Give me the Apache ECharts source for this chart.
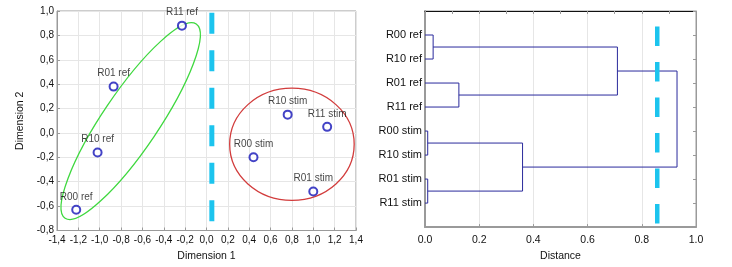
<!DOCTYPE html>
<html>
<head>
<meta charset="utf-8">
<style>
  html, body { margin: 0; padding: 0; background: #fff; }
  #chart { width: 732px; height: 267px; }
</style>
<script src="https://cdn.jsdelivr.net/npm/echarts@6/dist/echarts.min.js"></script>
</head>
<body>
<div id="chart"></div>
<script>
// MDS scatter (left)
var pointNames = ['R11 ref', 'R01 ref', 'R10 ref', 'R00 ref', 'R10 stim', 'R11 stim', 'R00 stim', 'R01 stim'];
var dim1 = [-0.23, -0.87, -1.02, -1.22, 0.76, 1.13, 0.44, 1.00];
var dim2 = [0.88, 0.38, -0.16, -0.63, 0.15, 0.05, -0.20, -0.48];

// group ellipses: centre, end of first semi-axis, end of second semi-axis (data units)
var refEllipse = [-0.71, 0.097, -0.096, 0.893, -0.493, -0.032];
var stimEllipse = [0.80, -0.093, 1.383, -0.093, 0.80, 0.367];

// cut line on the scatter
var scatterCut = [[0.05, 0.985], [0.05, -0.75]];

// dendrogram (right)
var leafNames = ['R00 ref', 'R10 ref', 'R01 ref', 'R11 ref', 'R00 stim', 'R10 stim', 'R01 stim', 'R11 stim'];
// [node a, node b, distance]; leaves are 0..7, new nodes numbered from 8
var merges = [
  [0, 1, 0.03],
  [2, 3, 0.125],
  [4, 5, 0.01],
  [6, 7, 0.01],
  [8, 9, 0.71],
  [10, 11, 0.36],
  [12, 13, 0.93]
];
var dendroCut = [[0.857, 0.65], [0.857, 8.88]];

var font = 'Liberation Sans, Arial, sans-serif';
var ink = '#111';
var frame = '#9a9a9a';
var gridCol = '#e6e6e6';
var cyan = '#1cc4ee';
var navy = '#2a2a9c';

function commaFmt(v) {
  if (Math.abs(v) < 1e-9) v = 0;
  return v.toFixed(1).replace('.', ',');
}

var chart = echarts.init(document.getElementById('chart'), null, { renderer: 'canvas' });

var scatterData = pointNames.map(function(n, i) {
  return { name: n, value: [dim1[i], dim2[i]] };
});

// build dendrogram links
var nodeY = leafNames.map(function(n, i) { return i + 1; });
var nodeH = leafNames.map(function() { return 0; });
var linkSeries = [];
merges.forEach(function(m) {
  var a = m[0], b = m[1], h = m[2];
  linkSeries.push({
    type: 'line',
    xAxisIndex: 1,
    yAxisIndex: 1,
    symbol: 'none',
    silent: true,
    lineStyle: { color: navy, width: 1 },
    data: [[nodeH[a], nodeY[a]], [h, nodeY[a]], [h, nodeY[b]], [nodeH[b], nodeY[b]]],
    z: 2
  });
  nodeY.push((nodeY[a] + nodeY[b]) / 2);
  nodeH.push(h);
});

var ellipseColors = ['#3fd83f', '#d23c3c'];

var option = {
  animation: false,
  textStyle: { fontFamily: font },
  grid: [
    { left: 57, right: 376, top: 11, bottom: 36.5, show: true, borderColor: frame, borderWidth: 1 },
    { left: 425, right: 36, top: 11, bottom: 36.5, show: true, borderColor: frame, borderWidth: 1 }
  ],
  xAxis: [
    {
      gridIndex: 0, type: 'value', min: -1.4, max: 1.4, interval: 0.2,
      axisLine: { show: true, onZero: false, lineStyle: { color: frame } },
      axisTick: { show: true, inside: true, length: 3, lineStyle: { color: frame } },
      axisLabel: { formatter: commaFmt, fontSize: 10, color: ink, margin: 5 },
      splitLine: { show: true, lineStyle: { color: gridCol } },
      name: 'Dimension 1', nameLocation: 'middle', nameGap: 19,
      nameTextStyle: { fontSize: 10.5, color: ink }
    },
    {
      gridIndex: 1, type: 'value', min: 0, max: 1, interval: 0.2,
      axisLine: { show: true, onZero: false, lineStyle: { color: frame, width: 2 } },
      axisTick: { show: true, inside: true, length: 3, lineStyle: { color: frame } },
      axisLabel: { formatter: function(v) { return v.toFixed(1); }, fontSize: 10.5, color: ink, margin: 8 },
      splitLine: { show: true, lineStyle: { color: gridCol } },
      name: 'Distance', nameLocation: 'middle', nameGap: 21,
      nameTextStyle: { fontSize: 10.5, color: ink }
    },
    {
      gridIndex: 1, type: 'value', position: 'top', min: 0, max: 1, interval: 0.1,
      axisLine: { show: true, onZero: false, lineStyle: { color: '#111', width: 1 } },
      axisTick: { show: true, inside: true, length: 3, lineStyle: { color: frame } },
      axisLabel: { show: false },
      splitLine: { show: false }
    }
  ],
  yAxis: [
    {
      gridIndex: 0, type: 'value', min: -0.8, max: 1.0, interval: 0.2,
      axisLine: { show: true, onZero: false, lineStyle: { color: frame } },
      axisTick: { show: true, inside: true, length: 3, lineStyle: { color: frame } },
      axisLabel: { formatter: commaFmt, fontSize: 10, color: ink, margin: 3 },
      splitLine: { show: true, lineStyle: { color: gridCol } },
      name: 'Dimension 2', nameLocation: 'middle', nameGap: 31, nameRotate: 90,
      nameTextStyle: { fontSize: 10.5, color: ink }
    },
    {
      gridIndex: 1, type: 'value', min: 0, max: 9, interval: 1, inverse: true,
      axisLine: { show: true, onZero: false, lineStyle: { color: frame, width: 2 } },
      axisTick: { show: false },
      axisLabel: {
        formatter: function(v) { return leafNames[v - 1] || ''; },
        fontSize: 11, color: ink, margin: 3
      },
      splitLine: { show: false }
    },
    {
      gridIndex: 1, type: 'value', position: 'right', min: 0, max: 9, interval: 1, inverse: true,
      axisLine: { show: true, onZero: false, lineStyle: { color: frame } },
      axisTick: { show: true, inside: true, length: 3, lineStyle: { color: frame } },
      axisLabel: { show: false },
      splitLine: { show: false }
    }
  ],
  series: [
    {
      type: 'custom',
      xAxisIndex: 0,
      yAxisIndex: 0,
      silent: true,
      data: [refEllipse, stimEllipse],
      renderItem: function(params, api) {
        var c = api.coord([api.value(0), api.value(1)]);
        var a = api.coord([api.value(2), api.value(3)]);
        var b = api.coord([api.value(4), api.value(5)]);
        var rx = Math.hypot(a[0] - c[0], a[1] - c[1]);
        var ry = Math.hypot(b[0] - c[0], b[1] - c[1]);
        var rot = -Math.atan2(a[1] - c[1], a[0] - c[0]);
        return {
          type: 'ellipse',
          x: c[0], y: c[1], rotation: rot,
          shape: { cx: 0, cy: 0, rx: rx, ry: ry },
          style: { fill: 'none', stroke: ellipseColors[params.dataIndex], lineWidth: 1.3 }
        };
      },
      z: 2
    },
    {
      type: 'line',
      xAxisIndex: 0,
      yAxisIndex: 0,
      symbol: 'none',
      silent: true,
      lineStyle: { color: cyan, width: 5, type: [21, 16.5], cap: 'butt' },
      data: scatterCut,
      z: 3
    },
    {
      type: 'scatter',
      xAxisIndex: 0,
      yAxisIndex: 0,
      symbol: 'emptyCircle',
      symbolSize: 8,
      itemStyle: { color: '#1414b8', borderWidth: 1.2 },
      label: {
        show: true, position: 'top', distance: 3,
        formatter: '{b}', fontSize: 10, color: ink, fontFamily: font
      },
      data: scatterData,
      z: 4
    }
  ].concat(linkSeries).concat([
    {
      type: 'line',
      xAxisIndex: 1,
      yAxisIndex: 1,
      symbol: 'none',
      silent: true,
      lineStyle: { color: cyan, width: 4.5, type: [19.5, 16], cap: 'butt' },
      data: dendroCut,
      z: 5
    }
  ])
};

chart.setOption(option);
window.addEventListener('resize', function() { chart.resize(); });
</script>
</body>
</html>
